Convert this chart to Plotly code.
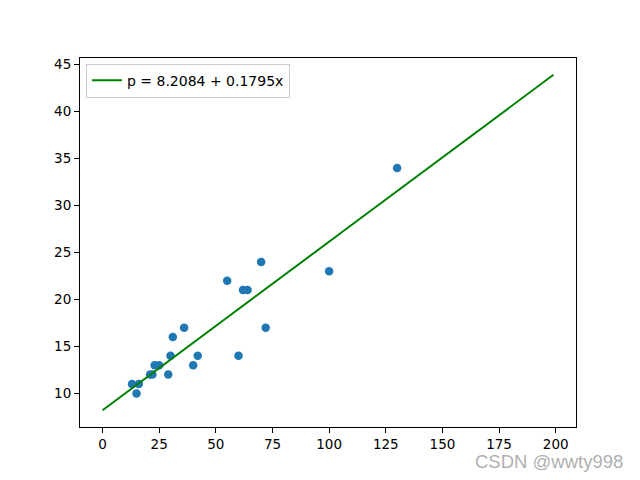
import numpy as np
import plotly.graph_objects as go

x_data = [13, 15, 16, 21, 22, 23, 25, 29, 30, 31, 36, 40, 42, 55, 60, 62, 64, 70, 72, 100, 130]
y_data = [11, 10, 11, 12, 12, 13, 13, 12, 14, 16, 17, 13, 14, 22, 14, 21, 21, 24, 17, 23, 34]
intercept = 8.2084
slope = 0.1795
x_line = list(range(0, 200))
y_line = [intercept + slope * v for v in x_line]
x_ticks = [0, 25, 50, 75, 100, 125, 150, 175, 200]
y_ticks = [10, 15, 20, 25, 30, 35, 40, 45]

fig = go.Figure()
fig.add_trace(go.Scatter(x=x_data, y=y_data, mode="markers",
                         marker=dict(color="#1f77b4", size=8.5), showlegend=False))
fig.add_trace(go.Scatter(x=x_line, y=y_line, mode="lines",
                         line=dict(color="green", width=2),
                         name="p = 8.2084 + 0.1795x"))

axis_common = dict(showline=True, linecolor="black", linewidth=1, mirror=True,
                   ticks="outside", ticklen=5, tickcolor="black", showgrid=False,
                   zeroline=False, tickfont=dict(family="DejaVu Sans", size=13.5, color="black"))
fig.update_xaxes(range=[-9.95, 208.95], tickvals=x_ticks, **axis_common)
fig.update_yaxes(range=[6.42, 45.72], tickvals=y_ticks, **axis_common)

fig.update_layout(
    width=640, height=480,
    margin=dict(l=80, r=64, t=58, b=53),
    plot_bgcolor="white", paper_bgcolor="white",
    legend=dict(x=0.012, y=0.985, xanchor="left", yanchor="top",
                bordercolor="#cccccc", borderwidth=1, bgcolor="rgba(255,255,255,0.8)",
                font=dict(family="DejaVu Sans", size=14, color="black")),
    annotations=[dict(text="CSDN @wwty998", xref="paper", yref="paper",
                      x=1.0, y=-0.093, xanchor="right", yanchor="middle",
                      xshift=49, showarrow=False,
                      font=dict(family="Liberation Sans", size=18.5, color="#b0b0b0"))],
)

fig.write_html("out.html")
